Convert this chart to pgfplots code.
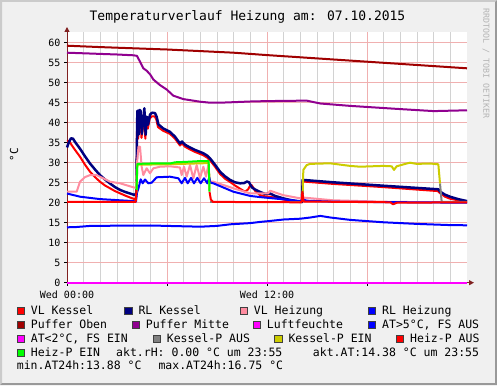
\documentclass[border=0pt]{standalone}
\usepackage{pgfplots}
\pgfplotsset{compat=1.18}
\usepackage{fontspec}
\setmainfont{DejaVu Sans Mono}
\usetikzlibrary{arrows.meta}
\definecolor{bgc}{HTML}{F0F0F0}
\definecolor{shadea}{HTML}{CBCBCB}
\definecolor{shadeb}{HTML}{999999}
\definecolor{gridc}{HTML}{D2D2D2}
\definecolor{mgridc}{HTML}{F0B0B0}
\definecolor{axisc}{HTML}{802020}
\definecolor{vlk}{HTML}{FF0000}
\definecolor{rlk}{HTML}{000080}
\definecolor{vlh}{HTML}{FF8CA0}
\definecolor{rlh}{HTML}{0000FF}
\definecolor{pob}{HTML}{A00000}
\definecolor{pmi}{HTML}{900090}
\definecolor{luf}{HTML}{FF00FF}
\definecolor{kpa}{HTML}{808080}
\definecolor{kpe}{HTML}{CCCC00}
\definecolor{hpa}{HTML}{FF0000}
\definecolor{hpe}{HTML}{00FF00}
\definecolor{rrdc}{HTML}{B4B4B4}
\newcommand{\lfont}{\fontsize{11.5}{12}\selectfont}
\newcommand{\lsq}[3]{\filldraw[fill=#3, draw=black!75, line width=0.6pt] (#1,#2) rectangle ++(7.3,7.3);}
\newcommand{\ltx}[3]{\node[anchor=base west, inner sep=0pt, font=\lfont] at (#1,#2) {#3};}
\begin{document}
\begin{tikzpicture}
\begin{scope}[x=1pt,y=1pt]
\path[use as bounding box] (0,0) rectangle (497,385);
\fill[bgc] (0,0) rectangle (497,385);
\fill[shadea] (0,0) -- (0,385) -- (497,385) -- (495,383) -- (2,383) -- (2,2) -- cycle;
\fill[shadeb] (0,0) -- (497,0) -- (497,385) -- (495,383) -- (495,2) -- (2,2) -- cycle;
\node[anchor=base, inner sep=0pt, font=\fontsize{13}{13}\selectfont] at (247.5,364) {Temperaturverlauf Heizung am: 07.10.2015};
\node[rotate=90, inner sep=0pt, font=\fontsize{11}{11}\selectfont] at (14,230) {°C};
\node[rotate=-90, anchor=west, inner sep=0pt, font=\fontsize{8.3}{8.3}\selectfont, text=rrdc] at (486,377) {RRDTOOL / TOBI OETIKER};
\end{scope}
\begin{axis}[
 at={(67pt,102.3pt)}, anchor=south west,
 scale only axis, width=400pt, height=250.7pt,
 xmin=0, xmax=24, ymin=0, ymax=62.675,
 axis background/.style={fill=white},
 axis x line=bottom, axis y line=left,
 axis line style={draw=axisc, line width=1pt},
 x axis line style={-{Triangle[length=5pt,width=5pt]}, shorten >=-7pt},
 y axis line style={-{Triangle[length=5pt,width=5pt]}, shorten >=-5pt},
 xtick={0,6,12,18}, xticklabels={Wed 00:00,,Wed 12:00,},
 minor xtick={1,2,3,4,5,7,8,9,10,11,13,14,15,16,17,19,20,21,22,23},
 ytick={0,5,...,60},
 xmajorgrids, xminorgrids, ymajorgrids,
 major grid style={draw=mgridc, line width=0.8pt},
 minor grid style={draw=gridc, line width=0.8pt},
 tick align=outside, major tick length=3pt, minor tick length=0pt,
 tick style={draw=black, line width=0.8pt},
 tick label style={font=\fontsize{10}{10}\selectfont},
 /pgf/number format/assume math mode=true,
 xticklabel style={yshift=-1.5pt},
 clip=false,
 every axis plot/.append style={no marks, line join=round, line width=2pt},
]
% VL Kessel
\addplot[vlk] coordinates {(0,35.3) (0.12,35.5) (0.28,34.4) (0.48,33.2) (0.78,31.5) (1.08,29.5) (1.38,27.75) (1.68,26.4) (1.98,25.25) (2.28,24.3) (2.58,23.6) (2.88,22.9) (3.18,22.35) (3.48,21.8) (3.78,21.3) (4.08,20.85) (4.16,21.5)
 (4.21,42.0) (4.27,36.0) (4.34,42.2) (4.40,42.0) (4.47,36.2) (4.57,40.0) (4.62,42.6) (4.70,36.0) (4.77,40.5) (4.85,38.5) (4.96,41.0) (5.08,41.6) (5.26,41.6) (5.36,40.8) (5.46,38.9) (5.76,38.0) (6.18,37.2) (6.48,36.0) (6.78,34.3) (6.90,34.8) (7.08,34.0) (7.38,33.3) (7.68,32.7) (8.16,31.9) (8.40,31.3) (8.58,30.6) (8.88,29.0) (9.18,27.2) (9.48,26.0) (9.78,25.2) (10.08,24.3) (10.38,23.5) (10.68,22.75) (10.86,23.3) (10.98,24.2) (11.08,24.4) (11.28,23.0) (11.58,21.9) (11.88,21.6) (12.18,21.5) (12.96,20.8) (13.68,20.3) (14.10,20.1) (14.14,25.3) (15.96,24.7) (18.96,23.9) (22.26,22.9) (22.38,22.4) (22.68,21.5) (22.98,21.0) (23.46,20.6) (24,20.3)};
% RL Kessel
\addplot[rlk, line width=2.5pt] coordinates {(0,33.8) (0.12,35.2) (0.24,36.1) (0.36,36.0) (0.48,35.2) (0.78,33.5) (1.08,31.6) (1.38,29.8) (1.68,28.3) (1.98,26.9) (2.28,25.8) (2.58,24.8) (2.88,23.9) (3.18,23.2) (3.48,22.7) (3.78,22.3) (4.08,21.9) (4.16,22.5)
 (4.22,43.0) (4.29,37.0) (4.35,43.2) (4.41,43.0) (4.49,37.2) (4.58,41.0) (4.64,43.6) (4.72,37.0) (4.79,41.5) (4.86,39.5) (4.98,42.0) (5.10,42.5) (5.28,42.4) (5.38,41.5) (5.48,39.6) (5.76,38.6) (6.18,37.7) (6.48,36.5) (6.78,34.8) (6.90,35.3) (7.08,34.5) (7.38,33.8) (7.68,33.2) (8.16,32.4) (8.40,31.8) (8.58,31.1) (8.88,29.5) (9.18,27.75) (9.48,26.6) (9.78,25.7) (10.08,25.1) (10.38,24.85) (10.62,24.9) (10.80,25.3) (10.92,25.1) (11.10,23.8) (11.28,23.3) (11.58,22.7) (11.88,22.2) (12.18,22.3) (12.48,21.7) (12.96,21.1) (13.38,20.7) (13.98,20.25) (14.10,20.2) (14.14,25.7) (15.96,25.1) (18.96,24.25) (22.28,23.35) (22.38,22.8) (22.68,22.0) (22.98,21.5) (23.46,20.9) (24,20.4)};
% VL Heizung
\addplot[vlh] coordinates {(0,22.75) (0.58,22.75) (0.78,25.25) (1.08,26.4) (1.38,26.9) (1.78,26.9) (2.58,25.25) (3.18,24.85) (3.98,23.85) (4.14,23.7) (4.20,30.0) (4.29,34.0) (4.38,34.0) (4.48,29.0) (4.58,26.9) (4.78,28.6) (4.98,27.35) (5.18,28.6) (5.58,29.0) (6.18,29.1) (6.78,28.8) (6.88,26.9) (7.02,29.0) (7.18,26.5) (7.38,29.4) (7.58,26.1) (7.78,29.4) (7.98,26.1) (8.18,29.0) (8.34,26.5) (8.48,29.4) (8.58,25.25) (8.78,25.25) (9.98,23.6) (10.98,22.35) (12.08,22.35) (12.18,23.0) (12.96,21.9) (13.98,21.1) (14.14,21.3) (15.96,20.6) (18.96,20.25) (24,20.0)};
% RL Heizung
\addplot[rlh] coordinates {(0,22.3) (0.78,21.5) (1.98,20.9) (3.98,20.4) (4.14,20.3) (4.20,22.5) (4.29,23.6) (4.42,25.85) (4.54,24.85) (4.68,25.8) (4.88,24.85) (5.08,25.0) (5.38,26.35) (6.18,26.5) (6.68,26.1) (6.88,24.85) (7.08,26.2) (7.24,24.85) (7.44,26.2) (7.62,24.85) (7.82,26.2) (8.02,24.85) (8.22,26.1) (8.42,24.85) (8.54,26.35) (8.60,25.0) (8.78,24.85) (9.98,22.75) (10.98,21.7) (11.58,21.4) (12.96,20.85) (13.98,20.4) (14.16,20.8) (14.4,20.5) (15.96,20.25) (24,20.0)};
% Puffer Oben
\addplot[pob] coordinates {(0,59.25) (2,58.9) (4,58.6) (6,58.3) (8,57.9) (10,57.5) (11,57.2) (12,56.9) (14,56.35) (16,55.8) (18,55.25) (20,54.7) (22,54.15) (24,53.6)};
% Puffer Mitte
\addplot[pmi] coordinates {(0,57.5) (1,57.35) (2,57.2) (3,57.05) (4,56.85) (4.2,56.7) (4.38,55.25) (4.58,53.6) (4.78,53.0) (5.0,52.0) (5.18,50.8) (5.58,49.4) (5.98,48.3) (6.38,46.75) (6.98,45.9) (7.98,45.25) (8.58,45.0) (9.5,45.05) (11,45.3) (12,45.4) (14,45.5) (14.4,45.5) (15.2,44.8) (17,44.2) (20,43.4) (22,42.9) (23,43.0) (24,43.1)};
% Luftfeuchte
\addplot[luf] coordinates {(0,0) (24,0)};
% AT
\addplot[rlh] coordinates {(0,13.85) (0.5,13.9) (1.4,14.2) (3,14.25) (5,14.3) (7,14.1) (8,14.0) (9,14.2) (9.8,14.6) (11,14.9) (11.6,15.2) (12.1,15.4) (13,15.8) (14,16.0) (14.6,16.3) (15.2,16.7) (15.8,16.3) (17,15.7) (19,15.1) (21,14.7) (23,14.4) (24,14.35)};
% Kessel-P AUS
\addplot[kpa] coordinates {(0,20.2) (4.15,20.2)};
\addplot[kpa] coordinates {(8.6,20.2) (14.12,20.2)};
\addplot[kpa] coordinates {(22.38,24.8) (22.48,20.2) (24,20.2)};
% Kessel-P EIN
\addplot[kpe] coordinates {(4.17,22.5) (4.22,29.5) (6,29.6) (8.5,29.9) (8.55,23)};
\addplot[kpe] coordinates {(14.14,22.4) (14.18,28.2) (14.38,29.4) (14.58,29.7) (15.78,29.85) (16.98,29.2) (17.58,29.0) (18.98,29.2) (19.48,29.1) (19.62,28.2) (19.78,29.1) (20.38,29.8) (20.58,30.0) (20.98,29.7) (21.78,29.8) (22.28,29.6) (22.38,24.8)};
% Heiz-P AUS
\addplot[hpa] coordinates {(0,20.2) (4.12,20.2) (4.17,23.2)};
\addplot[hpa] coordinates {(8.55,22.75) (8.63,20.8) (8.76,20.2) (13.98,20.1) (14.08,20.2) (14.12,22.7) (14.2,20.3) (19.4,20.1) (19.56,19.6) (19.8,20.0) (24,20.1)};
% Heiz-P EIN
\addplot[hpe] coordinates {(4.17,23.2) (4.22,29.7) (4.98,29.8) (6.18,29.8) (6.48,30.1) (7.08,30.2) (7.98,30.4) (8.5,30.4) (8.55,22.75)};
\end{axis}
\begin{scope}[x=1pt,y=1pt]
% row 1
\lsq{17}{70.3}{vlk} \ltx{30.7}{70.3}{VL Kessel}
\lsq{124.6}{70.3}{rlk} \ltx{138.3}{70.3}{RL Kessel}
\lsq{240}{70.3}{vlh} \ltx{253.7}{70.3}{VL Heizung}
\lsq{368.3}{70.3}{rlh} \ltx{382}{70.3}{RL Heizung}
% row 2
\lsq{17}{56.5}{pob} \ltx{30.7}{56.5}{Puffer Oben}
\lsq{132}{56.5}{pmi} \ltx{145.7}{56.5}{Puffer Mitte}
\lsq{253}{56.5}{luf} \ltx{266.7}{56.5}{Luftfeuchte}
\lsq{368.3}{56.5}{rlh} \ltx{382}{56.5}{AT>5°C, FS AUS}
% row 3
\lsq{17}{42.7}{luf} \ltx{30.7}{42.7}{AT<2°C, FS EIN}
\lsq{153}{42.7}{kpa} \ltx{166.7}{42.7}{Kessel-P AUS}
\lsq{274.6}{42.7}{kpe} \ltx{288.3}{42.7}{Kessel-P EIN}
\lsq{396.3}{42.7}{hpa} \ltx{410}{42.7}{Heiz-P AUS}
% row 4
\lsq{17}{28.9}{hpe} \ltx{30.7}{28.9}{Heiz-P EIN}
\ltx{116}{28.9}{akt.rH: 0.00 °C um 23:55}
\ltx{312.7}{28.9}{akt.AT:14.38 °C um 23:55}
% row 5
\ltx{16.7}{15.1}{min.AT24h:13.88 °C}
\ltx{158.3}{15.1}{max.AT24h:16.75 °C}
\end{scope}
\end{tikzpicture}
\end{document}
